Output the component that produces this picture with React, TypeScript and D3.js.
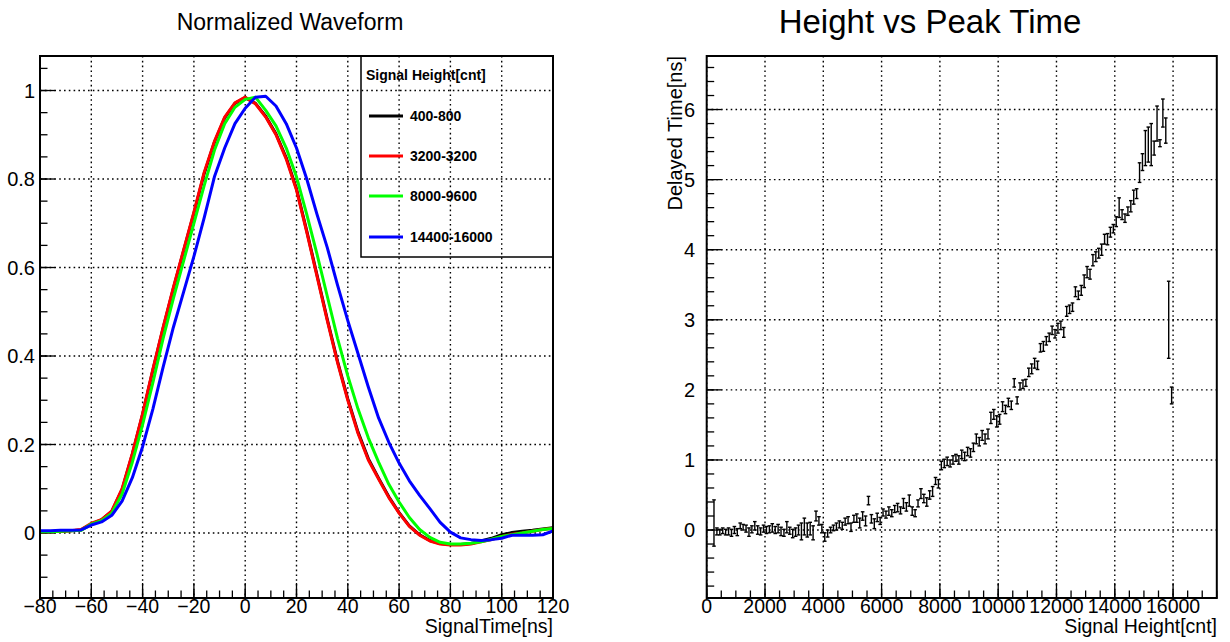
import React from 'react';
import * as d3 from 'd3';

// ---------------- Left panel data: normalized waveforms ----------------
const waveTimes = [-80, -76, -72, -68, -64, -60, -56, -52, -48, -44, -40, -36, -32, -28, -24, -20, -16, -12, -8, -4,
  0, 4, 8, 12, 16, 20, 24, 28, 32, 36, 40, 44, 48, 52, 56, 60, 64, 68, 72, 76, 80, 84, 88, 92, 96, 100, 104, 108, 112, 116, 120];

const wave400 = [0.003, 0.003, 0.004, 0.005, 0.007, 0.02, 0.03, 0.049, 0.098, 0.178, 0.268, 0.368, 0.463, 0.553, 0.638, 0.723, 0.812, 0.883, 0.938, 0.971,
  0.984, 0.971, 0.942, 0.902, 0.848, 0.778, 0.683, 0.583, 0.483, 0.388, 0.303, 0.228, 0.168, 0.124, 0.082, 0.046, 0.016, -0.004, -0.017, -0.024, -0.026, -0.026, -0.024, -0.018, -0.012, -0.004, 0.001, 0.004, 0.006, 0.009, 0.012];
const wave3200 = [0.003, 0.003, 0.004, 0.005, 0.008, 0.022, 0.03, 0.05, 0.1, 0.18, 0.27, 0.37, 0.465, 0.555, 0.64, 0.725, 0.815, 0.885, 0.94, 0.972,
  0.985, 0.97, 0.94, 0.9, 0.845, 0.775, 0.68, 0.58, 0.48, 0.385, 0.3, 0.225, 0.165, 0.122, 0.08, 0.045, 0.015, -0.005, -0.018, -0.025, -0.027, -0.027, -0.025, -0.02, -0.015, -0.008, -0.003, 0.0, 0.004, 0.008, 0.011];
const wave8000 = [0.003, 0.003, 0.004, 0.005, 0.006, 0.02, 0.028, 0.045, 0.088, 0.16, 0.245, 0.34, 0.44, 0.53, 0.615, 0.7, 0.785, 0.865, 0.925, 0.962,
  0.98, 0.985, 0.955, 0.92, 0.87, 0.805, 0.72, 0.63, 0.535, 0.44, 0.355, 0.28, 0.215, 0.16, 0.11, 0.07, 0.035, 0.008, -0.01, -0.021, -0.025, -0.025, -0.023, -0.02, -0.014, -0.008, -0.004, 0.0, 0.004, 0.008, 0.01];
const wave14400 = [0.005, 0.005, 0.006, 0.006, 0.007, 0.018, 0.025, 0.04, 0.072, 0.125, 0.195, 0.28, 0.375, 0.465, 0.545, 0.625, 0.712, 0.805, 0.87, 0.925,
  0.96, 0.985, 0.987, 0.965, 0.925, 0.87, 0.8, 0.72, 0.645, 0.56, 0.48, 0.405, 0.33, 0.26, 0.205, 0.158, 0.118, 0.085, 0.055, 0.024, 0.002, -0.011, -0.015, -0.017, -0.015, -0.012, -0.005, -0.005, -0.005, -0.004, 0.005];

const legendTitle = 'Signal Height[cnt]';
const seriesLabels = ['400-800', '3200-3200', '8000-9600', '14400-16000'];
const seriesColors = ['#000000', '#ff0000', '#00ff00', '#0000ff'];
const seriesValues = [wave400, wave3200, wave8000, wave14400];

const leftXTicks = [-80, -60, -40, -20, 0, 20, 40, 60, 80, 100, 120];
const leftYTicks = [0, 0.2, 0.4, 0.6, 0.8, 1];

// ---------------- Right panel data: height vs peak time ----------------
const heights = [
  250, 350, 450, 550, 650, 750, 850, 950, 1050, 1150,
  1250, 1350, 1450, 1550, 1650, 1750, 1850, 1950, 2050, 2150,
  2250, 2350, 2450, 2550, 2650, 2750, 2850, 2950, 3050, 3150,
  3250, 3350, 3450, 3550, 3650, 3750, 3850, 3950, 4050, 4150,
  4250, 4350, 4450, 4550, 4650, 4750, 4850, 4950, 5050, 5150,
  5250, 5350, 5450, 5550, 5650, 5750, 5850, 5950, 6050, 6150,
  6250, 6350, 6450, 6550, 6650, 6750, 6850, 6950, 7050, 7150,
  7250, 7350, 7450, 7550, 7650, 7750, 7850, 7950, 8050, 8150,
  8250, 8350, 8450, 8550, 8650, 8750, 8850, 8950, 9050, 9150,
  9250, 9350, 9450, 9550, 9650, 9750, 9850, 9950, 10050, 10150,
  10250, 10350, 10450, 10550, 10650, 10750, 10850, 10950, 11050, 11150,
  11250, 11350, 11450, 11550, 11650, 11750, 11850, 11950, 12050, 12150,
  12250, 12350, 12450, 12550, 12650, 12750, 12850, 12950, 13050, 13150,
  13250, 13350, 13450, 13550, 13650, 13750, 13850, 13950, 14050, 14150,
  14250, 14350, 14450, 14550, 14650, 14750, 14850, 14950, 15050, 15150,
  15250, 15350, 15450, 15550, 15650, 15750, 15850, 15950];
const delays = [
  0.10, -0.02, -0.03, -0.01, -0.03, -0.02, -0.04, 0.00, -0.03, 0.06,
  0.04, 0.02, -0.03, 0.01, 0.06, 0.00, -0.02, 0.02, 0.00, 0.01,
  0.03, 0.00, 0.02, -0.02, -0.04, 0.04, -0.01, -0.05, -0.03, 0.00,
  -0.02, 0.05, 0.00, 0.02, -0.04, 0.20, 0.13, 0.02, -0.10, -0.05,
  0.00, 0.03, 0.05, 0.08, 0.06, 0.12, 0.14, 0.04, 0.16, 0.17,
  0.10, 0.20, 0.13, 0.42, 0.16, 0.09, 0.18, 0.13, 0.25, 0.22,
  0.27, 0.24, 0.30, 0.32, 0.28, 0.38, 0.33, 0.42, 0.27, 0.24,
  0.38, 0.52, 0.45, 0.40, 0.50, 0.55, 0.70, 0.66, 0.92, 0.95,
  0.98, 0.95, 1.00, 1.03, 1.00, 1.08, 1.05, 1.12, 1.10, 1.18,
  1.30, 1.26, 1.35, 1.30, 1.37, 1.60, 1.65, 1.55, 1.58, 1.76,
  1.72, 1.82, 1.78, 2.10, 1.85, 2.05, 2.08, 2.10, 2.25, 2.30,
  2.38, 2.35, 2.60, 2.62, 2.70, 2.75, 2.85, 2.80, 2.88, 2.92,
  2.82, 3.12, 3.15, 3.18, 3.40, 3.35, 3.42, 3.55, 3.68, 3.65,
  3.85, 3.90, 3.95, 4.00, 4.15, 4.15, 4.25, 4.30, 4.40, 4.60,
  4.50, 4.45, 4.55, 4.62, 4.75, 4.80, 5.10, 5.25, 5.45, 5.50,
  5.50, 5.45, 5.80, 5.52, 5.95, 5.70, 3.00, 1.92];
const delayErrors = [
  0.33, 0.05, 0.04, 0.04, 0.04, 0.05, 0.05, 0.05, 0.05, 0.04,
  0.04, 0.05, 0.06, 0.05, 0.06, 0.06, 0.05, 0.05, 0.05, 0.05,
  0.06, 0.05, 0.06, 0.06, 0.05, 0.08, 0.05, 0.06, 0.06, 0.07,
  0.12, 0.12, 0.10, 0.09, 0.10, 0.07, 0.06, 0.06, 0.06, 0.05,
  0.04, 0.04, 0.05, 0.05, 0.05, 0.05, 0.05, 0.06, 0.05, 0.06,
  0.07, 0.06, 0.07, 0.06, 0.06, 0.07, 0.06, 0.05, 0.05, 0.05,
  0.06, 0.05, 0.05, 0.06, 0.05, 0.07, 0.06, 0.08, 0.06, 0.05,
  0.05, 0.07, 0.06, 0.06, 0.06, 0.07, 0.05, 0.06, 0.06, 0.06,
  0.06, 0.05, 0.06, 0.05, 0.06, 0.06, 0.06, 0.06, 0.06, 0.06,
  0.07, 0.06, 0.07, 0.07, 0.07, 0.08, 0.07, 0.08, 0.07, 0.07,
  0.06, 0.06, 0.06, 0.06, 0.05, 0.05, 0.06, 0.05, 0.06, 0.07,
  0.07, 0.06, 0.06, 0.07, 0.06, 0.06, 0.06, 0.06, 0.07, 0.06,
  0.07, 0.07, 0.06, 0.06, 0.07, 0.06, 0.07, 0.09, 0.08, 0.07,
  0.08, 0.07, 0.07, 0.08, 0.07, 0.08, 0.07, 0.06, 0.07, 0.14,
  0.07, 0.06, 0.06, 0.08, 0.10, 0.07, 0.14, 0.12, 0.25, 0.25,
  0.30, 0.10, 0.25, 0.05, 0.20, 0.18, 0.55, 0.12];

const rightXTicks = [0, 2000, 4000, 6000, 8000, 10000, 12000, 14000, 16000];
const rightYTicks = [0, 1, 2, 3, 4, 5, 6];

const FONT = "'Liberation Sans', Arial, Helvetica, sans-serif";
const GRID_DASH = '1.6 3.2';
const fmt = d3.format('~g');

type Frame = { x0: number; x1: number; y0: number; y1: number };

function Axes({ frame, xs, ys, xTicks, yTicks, xMinor, yMinor, yLabelRight }: any) {
  const f: Frame = frame;
  return (
    <g>
      {xTicks.map((t: number) => (
        <line key={'gx' + t} x1={xs(t)} x2={xs(t)} y1={f.y0} y2={f.y1} stroke="#000" strokeWidth={1.4} strokeDasharray={GRID_DASH} />
      ))}
      {yTicks.map((t: number) => (
        <line key={'gy' + t} x1={f.x0} x2={f.x1} y1={ys(t)} y2={ys(t)} stroke="#000" strokeWidth={1.4} strokeDasharray={GRID_DASH} />
      ))}
      {xMinor.map((t: number) => (
        <line key={'mx' + t} x1={xs(t)} x2={xs(t)} y1={f.y1} y2={f.y1 - 7.5} stroke="#000" strokeWidth={1.3} />
      ))}
      {xTicks.map((t: number) => (
        <line key={'tx' + t} x1={xs(t)} x2={xs(t)} y1={f.y1} y2={f.y1 - 15} stroke="#000" strokeWidth={1.3} />
      ))}
      {yMinor.map((t: number) => (
        <line key={'my' + t} x1={f.x0} x2={f.x0 + 7.5} y1={ys(t)} y2={ys(t)} stroke="#000" strokeWidth={1.3} />
      ))}
      {yTicks.map((t: number) => (
        <line key={'ty' + t} x1={f.x0} x2={f.x0 + 15} y1={ys(t)} y2={ys(t)} stroke="#000" strokeWidth={1.3} />
      ))}
      {xTicks.map((t: number) => (
        <text key={'lx' + t} x={xs(t)} y={f.y1 + 15} textAnchor="middle" fontSize={19.5} fontFamily={FONT}>{fmt(t)}</text>
      ))}
      {yTicks.map((t: number) => (
        <text key={'ly' + t} x={yLabelRight} y={ys(t) + 7} textAnchor="end" fontSize={20} fontFamily={FONT}>{fmt(t)}</text>
      ))}
    </g>
  );
}

export default function App() {
  const L: Frame = { x0: 40, x1: 553, y0: 56, y1: 598 };
  const R: Frame = { x0: 706.7, x1: 1216.8, y0: 56, y1: 598 };
  const xL = d3.scaleLinear().domain([-80, 120]).range([L.x0, L.x1]);
  const yL = d3.scaleLinear().domain([-0.1469, 1.078]).range([L.y1, L.y0]);
  const xR = d3.scaleLinear().domain([0, 17500]).range([R.x0, R.x1]);
  const yR = d3.scaleLinear().domain([-0.97, 6.764]).range([R.y1, R.y0]);

  const leftXMinor = d3.range(-80, 120.01, 5);
  const leftYMinor = d3.range(-0.1, 1.06, 0.05);
  const rightXMinor = d3.range(0, 17500.1, 500);
  const rightYMinor = d3.range(-0.8, 6.7, 0.2);

  const line = d3.line<number>()
    .x((_, i) => xL(waveTimes[i]))
    .y((d) => yL(d));

  const entryYs = [116, 156, 196, 237];

  return (
    <svg width={1230} height={642} style={{ position: 'absolute', left: 0, top: 0, background: '#fff' }}>
      <rect x={0} y={0} width={1230} height={642} fill="#fff" />
      <defs>
        <clipPath id="clipL"><rect x={L.x0} y={L.y0} width={L.x1 - L.x0} height={L.y1 - L.y0} /></clipPath>
      </defs>
      {/* Left panel */}
      <text x={290} y={30} textAnchor="middle" fontSize={23} fontFamily={FONT}>Normalized Waveform</text>
      <Axes frame={L} xs={xL} ys={yL} xTicks={leftXTicks} yTicks={leftYTicks} xMinor={leftXMinor} yMinor={leftYMinor} yLabelRight={35} />
      <g clipPath="url(#clipL)">
        {seriesValues.map((vals, i) => (
          <path key={'s' + i} d={line(vals) || ''} fill="none" stroke={seriesColors[i]} strokeWidth={3} strokeLinejoin="round" />
        ))}
      </g>
      <rect x={L.x0} y={L.y0} width={L.x1 - L.x0} height={L.y1 - L.y0} fill="none" stroke="#000" strokeWidth={2} />
      {/* legend */}
      <rect x={361} y={56} width={553 - 361} height={257 - 56} fill="none" stroke="#000" strokeWidth={1.5} />
      <text x={366} y={80} fontSize={14} fontWeight="bold" fontFamily={FONT}>{legendTitle}</text>
      {seriesLabels.map((lab, i) => (
        <g key={'lg' + i}>
          <line x1={369} x2={403} y1={entryYs[i]} y2={entryYs[i]} stroke={seriesColors[i]} strokeWidth={3} />
          <text x={410} y={entryYs[i] + 5} fontSize={14} fontWeight="bold" fontFamily={FONT}>{lab}</text>
        </g>
      ))}
      <text x={553} y={633} textAnchor="end" fontSize={19.5} fontFamily={FONT}>SignalTime[ns]</text>

      {/* Right panel */}
      <text x={930} y={33} textAnchor="middle" fontSize={33} fontFamily={FONT}>Height vs Peak Time</text>
      <Axes frame={R} xs={xR} ys={yR} xTicks={rightXTicks} yTicks={rightYTicks} xMinor={rightXMinor} yMinor={rightYMinor} yLabelRight={695} />
      <g>
        {heights.map((h, i) => {
          const x = xR(h);
          const yt = yR(delays[i] + delayErrors[i]);
          const yb = yR(delays[i] - delayErrors[i]);
          return (
            <g key={'e' + i} stroke="#000" strokeWidth={1.4}>
              <line x1={x} x2={x} y1={yt} y2={yb} />
              <line x1={x - 1.8} x2={x + 1.8} y1={yt} y2={yt} />
              <line x1={x - 1.8} x2={x + 1.8} y1={yb} y2={yb} />
            </g>
          );
        })}
      </g>
      <rect x={R.x0} y={R.y0} width={R.x1 - R.x0} height={R.y1 - R.y0} fill="none" stroke="#000" strokeWidth={2} />
      <text x={1217} y={633} textAnchor="end" fontSize={19.5} fontFamily={FONT}>Signal Height[cnt]</text>
      <text transform="translate(682,56) rotate(-90)" textAnchor="end" fontSize={20} fontFamily={FONT}>Delayed Time[ns]</text>
    </svg>
  );
}
